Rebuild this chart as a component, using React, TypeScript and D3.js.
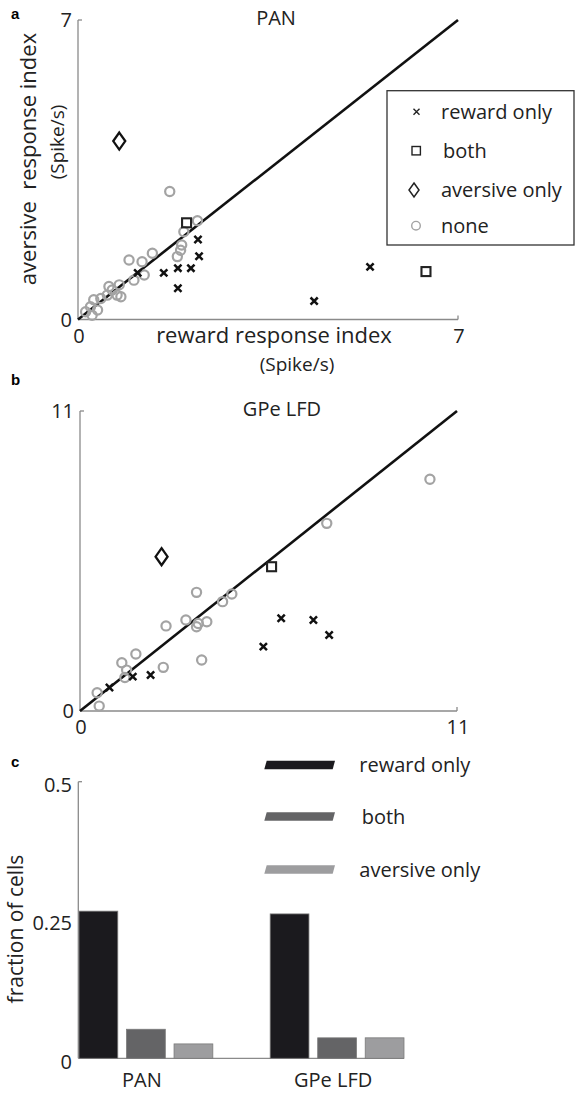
import React from 'react';
import * as d3 from 'd3';

const FONT = '"Open Sans", "Noto Sans", sans-serif';
const BOLD = '"Liberation Sans", Arial, sans-serif';

// ---- Panel a: PAN response indices (spike/s), [reward, aversive]
const panRewardOnly: [number, number][] = [
  [1.1, 1.09], [1.58, 1.09], [1.84, 1.2], [2.08, 1.2], [2.21, 1.87],
  [2.23, 1.48], [1.84, 0.73], [4.35, 0.43], [5.38, 1.23],
];
const panBoth: [number, number][] = [[2.0, 2.26], [6.41, 1.12]];
const panAversiveOnly: [number, number][] = [[0.76, 4.17]];
const panNone: [number, number][] = [
  [1.69, 2.99], [2.2, 2.31], [1.95, 2.05], [1.91, 1.74], [1.89, 1.62], [1.83, 1.47],
  [1.37, 1.55], [1.18, 1.35], [0.94, 1.39], [1.22, 1.04], [1.03, 0.92],
  [0.76, 0.81], [0.57, 0.77], [0.72, 0.57], [0.54, 0.57], [0.42, 0.49],
  [0.29, 0.46], [0.79, 0.53], [0.23, 0.3], [0.36, 0.22], [0.14, 0.18],
  [0.26, 0.1], [0.63, 0.69],
];
const panTicks = [0, 7];

// ---- Panel b: GPe LFD response indices (spike/s)
const gpeRewardOnly: [number, number][] = [
  [0.86, 0.86], [1.54, 1.26], [2.06, 1.32], [5.35, 2.36], [5.87, 3.4],
  [6.81, 3.34], [7.27, 2.79],
];
const gpeBoth: [number, number][] = [[5.59, 5.29]];
const gpeAversiveOnly: [number, number][] = [[2.38, 5.66]];
const gpeNone: [number, number][] = [
  [3.4, 4.35], [4.16, 4.01], [4.43, 4.29], [2.51, 3.12], [3.09, 3.34],
  [3.4, 3.09], [3.45, 3.21], [3.7, 3.27], [3.55, 1.87], [2.43, 1.6],
  [1.63, 2.09], [1.22, 1.77], [1.36, 1.5], [1.31, 1.23], [0.5, 0.67],
  [0.56, 0.18], [7.2, 6.88], [10.21, 8.5],
];
const gpeTicks = [0, 11];

// ---- Panel c: fraction of responsive cells
const groups = ['PAN', 'GPe LFD'];
const responseTypes = ['reward only', 'both', 'aversive only'];
const panFractions = [0.266, 0.0525, 0.026];
const gpeFractions = [0.261, 0.037, 0.037];
const fractionTicks = [0, 0.25, 0.5];
const fractionTickLabels = ['0', '0.25', '0.5'];
const barColors = ['#1b1a1e', '#646466', '#9d9d9f'];

const AXIS = '#8a8a8a';
const NONE_GRAY = '#a3a3a3';

function crossPath(x: number, y: number, r: number) {
  return `M${x - r},${y - r}L${x + r},${y + r}M${x - r},${y + r}L${x + r},${y - r}`;
}
function diamondPath(x: number, y: number, w: number, h: number) {
  return `M${x},${y - h}L${x + w},${y}L${x},${y + h}L${x - w},${y}Z`;
}

type Pt = [number, number];

function Scatter({
  x, y, ticks, reward, both, aversive, none, title, titleX, titleY,
}: {
  x: d3.ScaleLinear<number, number>; y: d3.ScaleLinear<number, number>;
  ticks: number[]; reward: Pt[]; both: Pt[]; aversive: Pt[]; none: Pt[];
  title: string; titleX: number; titleY: number;
}) {
  const [x0, x1] = x.range();
  const [y0, y1] = y.range();
  const dmax = x.domain()[1];
  return (
    <g>
      {/* axes */}
      <line x1={x0} x2={x0} y1={y0} y2={y1} stroke={AXIS} strokeWidth={1.3} />
      <line x1={x0} x2={x0 + 4} y1={y1} y2={y1} stroke={AXIS} strokeWidth={1.3} />
      <line x1={x0} x2={x1} y1={y0} y2={y0} stroke={AXIS} strokeWidth={1.3} />
      <line x1={x1} x2={x1} y1={y0} y2={y0 - 4} stroke={AXIS} strokeWidth={1.3} />
      {ticks.map((t) => (
        <text key={'y' + t} x={x0 - 6} y={y(t)} dy="0.36em" textAnchor="end"
          fontFamily={FONT} fontSize={20} fill="#222">{t}</text>
      ))}
      {ticks.map((t) => (
        <text key={'x' + t} x={x(t) + 1} y={y0 + 23} textAnchor="middle"
          fontFamily={FONT} fontSize={20} fill="#222">{t}</text>
      ))}
      <text x={titleX} y={titleY} textAnchor="middle" fontFamily={FONT} fontSize={20} fill="#222">{title}</text>
      {/* unity line */}
      <line x1={x(0)} y1={y(0)} x2={x(dmax)} y2={y(dmax)} stroke="#111" strokeWidth={2.6} />
      {none.map(([a, b], i) => (
        <circle key={'n' + i} cx={x(a)} cy={y(b)} r={4.6} fill="none" stroke={NONE_GRAY} strokeWidth={2.2} />
      ))}
      {reward.map(([a, b], i) => (
        <path key={'r' + i} d={crossPath(x(a), y(b), 3.6)} stroke="#111" strokeWidth={2.5} fill="none" />
      ))}
      {both.map(([a, b], i) => (
        <rect key={'b' + i} x={x(a) - 4.5} y={y(b) - 4.5} width={9} height={9} fill="none" stroke="#222" strokeWidth={2.1} />
      ))}
      {aversive.map(([a, b], i) => (
        <path key={'a' + i} d={diamondPath(x(a), y(b), 6, 8.5)} fill="none" stroke="#111" strokeWidth={2.3} />
      ))}
    </g>
  );
}

export default function App() {
  // panel a scales
  const xa = d3.scaleLinear().domain([0, 7]).range([78, 458]);
  const ya = d3.scaleLinear().domain([0, 7]).range([319.5, 20]);
  // panel b scales
  const xb = d3.scaleLinear().domain([0, 11]).range([80, 457]);
  const yb = d3.scaleLinear().domain([0, 11]).range([711, 411]);
  // panel c scales
  const xg = d3.scaleBand<string>().domain(groups).range([79, 404]).paddingInner(0.3).paddingOuter(0);
  const xt = d3.scaleBand<string>().domain(responseTypes).range([0, xg.bandwidth()]).paddingInner(0.184).paddingOuter(0);
  const yc = d3.scaleLinear().domain([0, 0.5]).range([1058.3, 781.7]);
  const fractions = [panFractions, gpeFractions];

  const legendRowsA = [
    { label: 'reward only', y: 111.7 },
    { label: 'both', y: 150.7 },
    { label: 'aversive only', y: 190 },
    { label: 'none', y: 225.7 },
  ];
  const legendRowsC = [765, 816.5, 869.5];

  return (
    <svg width={579} height={1094} style={{ position: 'absolute', left: 0, top: 0, background: '#fff' }}>
      <rect width={579} height={1094} fill="#fff" />

      {/* ---------- a ---------- */}
      <text x={11} y={19} fontFamily={BOLD} fontWeight="bold" fontSize={15}>a</text>
      <Scatter x={xa} y={ya} ticks={panTicks} reward={panRewardOnly} both={panBoth}
        aversive={panAversiveOnly} none={panNone} title="PAN" titleX={276} titleY={25} />
      <text transform="translate(36,159) rotate(-90)" textAnchor="middle" fontFamily={FONT} fontSize={22} fill="#222"
        style={{ whiteSpace: 'pre' }}>{'aversive  response index'}</text>
      <text transform="translate(64,142) rotate(-90)" textAnchor="middle" fontFamily={FONT} fontSize={19} fill="#222">(Spike/s)</text>
      <text x={274} y={343} textAnchor="middle" fontFamily={FONT} fontSize={22} fill="#222">reward response index</text>
      <text x={297} y={371} textAnchor="middle" fontFamily={FONT} fontSize={19} fill="#222">(Spike/s)</text>

      {/* legend a */}
      <rect x={387} y={90.7} width={187} height={154.3} fill="#fff" stroke="#333" strokeWidth={1.3} />
      <path d={crossPath(416.5, legendRowsA[0].y, 3)} stroke="#222" strokeWidth={1.4} />
      <rect x={412} y={legendRowsA[1].y - 4.2} width={8.4} height={8.4} fill="none" stroke="#222" strokeWidth={1.4} />
      <path d={diamondPath(414, legendRowsA[2].y, 5, 7)} fill="none" stroke="#222" strokeWidth={1.5} />
      <circle cx={416} cy={legendRowsA[3].y} r={4.3} fill="none" stroke={NONE_GRAY} strokeWidth={1.4} />
      {legendRowsA.map((r, i) => (
        <text key={r.label} x={i === 1 ? 443 : 441} y={r.y} dy="0.36em" fontFamily={FONT} fontSize={20} fill="#222">{r.label}</text>
      ))}

      {/* ---------- b ---------- */}
      <text x={11} y={385} fontFamily={BOLD} fontWeight="bold" fontSize={15}>b</text>
      <Scatter x={xb} y={yb} ticks={gpeTicks} reward={gpeRewardOnly} both={gpeBoth}
        aversive={gpeAversiveOnly} none={gpeNone} title="GPe LFD" titleX={282} titleY={416} />

      {/* ---------- c ---------- */}
      <text x={11} y={767} fontFamily={BOLD} fontWeight="bold" fontSize={15}>c</text>
      <line x1={78.3} x2={78.3} y1={yc(0)} y2={yc(0.5)} stroke={AXIS} strokeWidth={1.3} />
      <line x1={78.3} x2={82} y1={yc(0.5)} y2={yc(0.5)} stroke={AXIS} strokeWidth={1.3} />
      <line x1={78.3} x2={404} y1={yc(0)} y2={yc(0)} stroke={AXIS} strokeWidth={1.3} />
      {fractionTicks.map((t, i) => (
        <text key={t} x={72} y={yc(t) + 3} dy="0.36em" textAnchor="end" fontFamily={FONT} fontSize={20} fill="#222">
          {fractionTickLabels[i]}
        </text>
      ))}
      <text transform="translate(23,929) rotate(-90)" textAnchor="middle" fontFamily={FONT} fontSize={21} fill="#222">fraction of cells</text>
      {groups.map((g, gi) => (
        <g key={g} transform={`translate(${xg(g)},0)`}>
          {responseTypes.map((t, ti) => (
            <rect key={t} x={xt(t)} y={yc(fractions[gi][ti])} width={xt.bandwidth()}
              height={yc(0) - yc(fractions[gi][ti])} fill={barColors[ti]} stroke="#7a7a7a" strokeWidth={0.8} />
          ))}
          <text x={xg.bandwidth() / 2 - 4} y={1087} textAnchor="middle" fontFamily={FONT} fontSize={20} fill="#222">{g}</text>
        </g>
      ))}
      {/* legend c */}
      {responseTypes.map((t, i) => {
        const cy = legendRowsC[i];
        return (
          <g key={t}>
            <path d={`M${266.7},${cy - 4.3}L${335},${cy - 4.3}L${332.7},${cy + 4.3}L${264.3},${cy + 4.3}Z`} fill={barColors[i]} />
            <text x={i === 1 ? 361.7 : 359.3} y={cy} dy="0.36em" fontFamily={FONT} fontSize={20} fill="#222">{t}</text>
          </g>
        );
      })}
    </svg>
  );
}
